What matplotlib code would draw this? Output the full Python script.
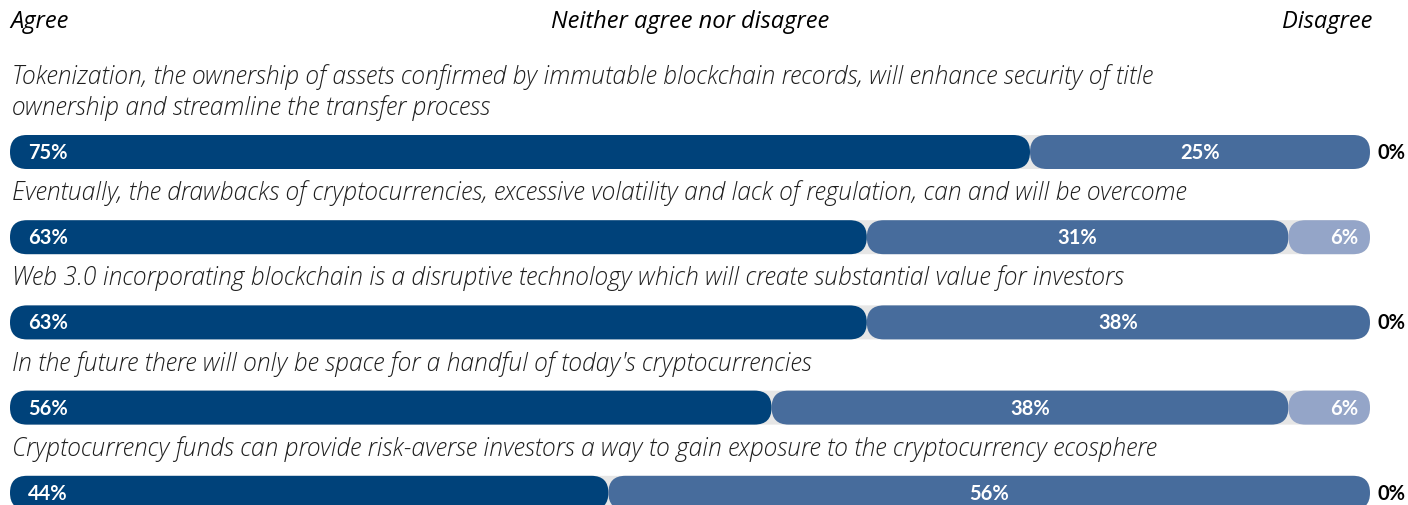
import matplotlib
matplotlib.use("Agg")
import matplotlib.pyplot as plt
from matplotlib.patches import FancyBboxPatch

questions = [
    "Tokenization, the ownership of assets confirmed by immutable blockchain records, will enhance security of title\nownership and streamline the transfer process",
    "Eventually, the drawbacks of cryptocurrencies, excessive volatility and lack of regulation, can and will be overcome",
    "Web 3.0 incorporating blockchain is a disruptive technology which will create substantial value for investors",
    "In the future there will only be space for a handful of today's cryptocurrencies",
    "Cryptocurrency funds can provide risk-averse investors a way to gain exposure to the cryptocurrency ecosphere",
]
agree = [75, 63, 63, 56, 44]
neither = [25, 31, 38, 38, 56]
disagree = [0, 6, 0, 6, 0]
headers = ["Agree", "Neither agree nor disagree", "Disagree"]

c_agree = "#00427a"
c_neither = "#476c9c"
c_disagree = "#94a5c8"
c_track = "#e6e6e6"

W, H = 1408, 506
fig = plt.figure(figsize=(W / 100, H / 100), dpi=100)
ax = fig.add_axes([0, 0, 1, 1])
ax.axis("off")

px_x = 100 / 1360.0          # x units per pixel
row_px = 85.2                # pixels per row
x0_px, first_row_px = 10, 153
ax.set_xlim(-x0_px * px_x, (W - x0_px) * px_x)
ax.set_ylim((H - first_row_px) / row_px, -first_row_px / row_px)

bar_h = 34 / row_px
r_x = 17 * px_x
aspect = (1 / row_px) / px_x

def pill(x_start, x_end, y, color, z):
    w = x_end - x_start
    p = FancyBboxPatch((x_start, y - bar_h / 2), w, bar_h,
                       boxstyle=f"round,pad=0,rounding_size={r_x}",
                       mutation_aspect=aspect, fc=color, ec="none", zorder=z)
    ax.add_patch(p)

qfont = "Open Sans"
lfont = "Lato"
for i, q in enumerate(questions):
    y = i
    pill(0, 100, y, c_track, 1)
    a, n, d = agree[i], neither[i], disagree[i]
    pill(0, a, y, c_agree, 2)
    n_end = min(a + n, 100)
    pill(a, n_end, y, c_neither, 3)
    if d > 0:
        pill(n_end, 100, y, c_disagree, 4)
    lab = dict(color="white", fontsize=14.5, fontweight="bold", family=lfont, va="center", zorder=10)
    ax.text(18 * px_x, y, f"{a}%", ha="left", **lab)
    ax.text((a + n_end) / 2, y, f"{n}%", ha="center", **lab)
    if d > 0:
        ax.text(100 - 12 * px_x, y, f"{d}%", ha="right", **lab)
    else:
        ax.text(100 + 8 * px_x, y, f"{d}%", ha="left", color="black",
                fontsize=14.5, fontweight="bold", family=lfont, va="center", zorder=10)
    ax.text(2 * px_x, y - bar_h / 2 - 15 / row_px, q, ha="left", va="bottom",
            fontsize=17.75, style="italic", fontweight="light", family=qfont,
            color="#1e1e1e", linespacing=1.25)

hy = (22 - first_row_px) / row_px
hdr = dict(va="center", fontsize=17, style="italic", family=qfont, color="black")
ax.text(0, hy, headers[0], ha="left", **hdr)
ax.text(50, hy, headers[1], ha="center", **hdr)
ax.text(100 + 2 * px_x, hy, headers[2], ha="right", **hdr)

fig.savefig("out.png", dpi=100)
